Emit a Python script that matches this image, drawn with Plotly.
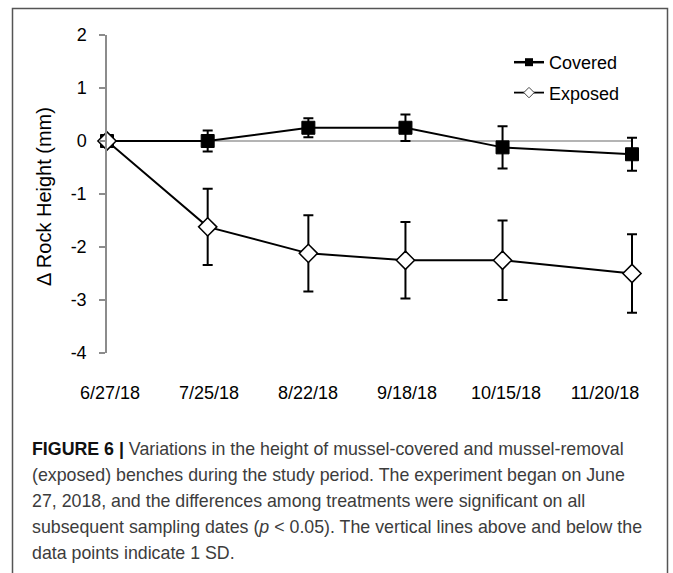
import pandas as pd
import plotly.graph_objects as go

# Sampling dates and tick labels
dates = ["2018-06-27", "2018-07-25", "2018-08-22", "2018-09-18", "2018-10-15", "2018-11-20"]
date_labels = ["6/27/18", "7/25/18", "8/22/18", "9/18/18", "10/15/18", "11/20/18"]
y_ticks = [2, 1, 0, -1, -2, -3, -4]
y_tick_labels = ["2", "1", "0", "-1", "-2", "-3", "-4"]

# Change in rock height (mm), mean and 1 SD
covered_mean = [0.0, 0.0, 0.25, 0.25, -0.12, -0.25]
covered_sd = [0.0, 0.20, 0.18, 0.25, 0.40, 0.31]
exposed_mean = [0.0, -1.62, -2.12, -2.25, -2.25, -2.50]
exposed_sd = [0.0, 0.72, 0.72, 0.72, 0.75, 0.74]

W, H = 673, 573
L, R, T, B = 107, 13, 35, 220
PW, PH = W - L - R, H - T - B

def px_x(px):
    return (px - L) / PW

def px_y(py):
    return (H - B - py) / PH

# time axis: first date on the left edge, last date at pixel 632
d0, d1 = pd.Timestamp(dates[0]), pd.Timestamp(dates[-1])
x_end = d0 + (d1 - d0) * (PW / (632 - L))

# label axis: evenly spaced category labels (first at px 110, last at px 605)
step = (605 - 110) / (len(date_labels) - 1)
lab_lo = -(110 - L) / step
lab_hi = lab_lo + PW / step

FONT = "Arial, Liberation Sans, sans-serif"

fig = go.Figure()

# zero reference line
fig.add_trace(go.Scatter(
    x=[dates[0], dates[-1]], y=[0, 0], mode="lines",
    line=dict(color="#b4b4b4", width=2), showlegend=False, hoverinfo="skip",
    cliponaxis=False,
))

fig.add_trace(go.Scatter(
    x=dates, y=covered_mean, mode="lines+markers", name="Covered",
    line=dict(color="black", width=2),
    marker=dict(symbol="square", size=13, color="black", line=dict(color="black", width=1)),
    error_y=dict(type="data", array=covered_sd, color="black", thickness=2, width=5),
    showlegend=False, cliponaxis=False,
))

fig.add_trace(go.Scatter(
    x=dates, y=exposed_mean, mode="lines+markers", name="Exposed",
    line=dict(color="black", width=2),
    marker=dict(symbol="diamond", size=14, color="white", line=dict(color="black", width=1.5)),
    error_y=dict(type="data", array=exposed_sd, color="black", thickness=2, width=5),
    showlegend=False, cliponaxis=False,
))

# carrier for the label axis
fig.add_trace(go.Scatter(
    x=list(range(len(date_labels))), y=[None] * len(date_labels), xaxis="x2",
    mode="markers", showlegend=False, hoverinfo="skip",
))

# legend entries with small symbols
fig.add_trace(go.Scatter(
    x=[None], y=[None], mode="lines+markers", name="Covered", legendgroup="c",
    line=dict(color="black", width=2.5),
    marker=dict(symbol="square", size=8, color="black"),
))
fig.add_trace(go.Scatter(
    x=[None], y=[None], mode="lines+markers", name="Exposed", legendgroup="e",
    line=dict(color="black", width=1.8),
    marker=dict(symbol="diamond", size=8, color="white", line=dict(color="#444", width=1)),
))

fig.update_layout(
    width=W, height=H,
    margin=dict(l=L, r=R, t=T, b=B, autoexpand=False),
    paper_bgcolor="white", plot_bgcolor="white",
    font=dict(family=FONT, color="black", size=18),
    showlegend=True,
    legend=dict(
        x=px_x(509), y=px_y(44), xanchor="left", yanchor="top",
        bgcolor="rgba(0,0,0,0)", font=dict(size=18, family=FONT),
        traceorder="grouped", tracegroupgap=4,
    ),
    xaxis=dict(
        type="date", range=[d0, x_end],
        showticklabels=False, showline=False, showgrid=False, zeroline=False, ticks="",
    ),
    xaxis2=dict(
        overlaying="x", anchor="y", side="bottom", range=[lab_lo, lab_hi],
        tickmode="array", tickvals=list(range(len(date_labels))), ticktext=date_labels,
        showline=False, showgrid=False, zeroline=False, ticks="",
        ticklabelstandoff=27, tickfont=dict(size=18, family=FONT, color="black"),
    ),
    yaxis=dict(
        range=[-4, 2], tickmode="array", tickvals=y_ticks, ticktext=y_tick_labels,
        showline=True, linecolor="#8c8c8c", linewidth=1.5,
        ticks="outside", ticklen=6, tickcolor="#8c8c8c", tickwidth=1.5,
        ticklabelstandoff=9,
        showgrid=False, zeroline=False,
        tickfont=dict(size=18, family=FONT, color="black"),
    ),
)

# y-axis title
fig.add_annotation(
    text="Δ Rock Height (mm)", textangle=-90, showarrow=False,
    xref="paper", yref="paper", x=px_x(44), y=px_y(197),
    xanchor="center", yanchor="middle",
    font=dict(size=20, family=FONT, color="black"),
)

# figure caption
caption = [
    "<b style='color:#111'>FIGURE 6 |</b> Variations in the height of mussel-covered and mussel-removal",
    "(exposed) benches during the study period. The experiment began on June",
    "27, 2018, and the differences among treatments were significant on all",
    "subsequent sampling dates (<i>p</i> &lt; 0.05). The vertical lines above and below the",
    "data points indicate 1 SD.",
]
for i, line in enumerate(caption):
    fig.add_annotation(
        text=line, showarrow=False, xref="paper", yref="paper",
        x=px_x(30), y=px_y(449 + 26 * i), xanchor="left", yanchor="middle",
        font=dict(size=17.8, family=FONT, color="#3c3c3c"),
    )

# outer frame
fig.add_shape(
    type="rect", xref="paper", yref="paper",
    x0=px_x(12.5), x1=px_x(667.5), y0=px_y(590), y1=px_y(8.5),
    line=dict(color="#555555", width=1.5), fillcolor="rgba(0,0,0,0)", layer="below",
)

fig.write_html("out.html")
